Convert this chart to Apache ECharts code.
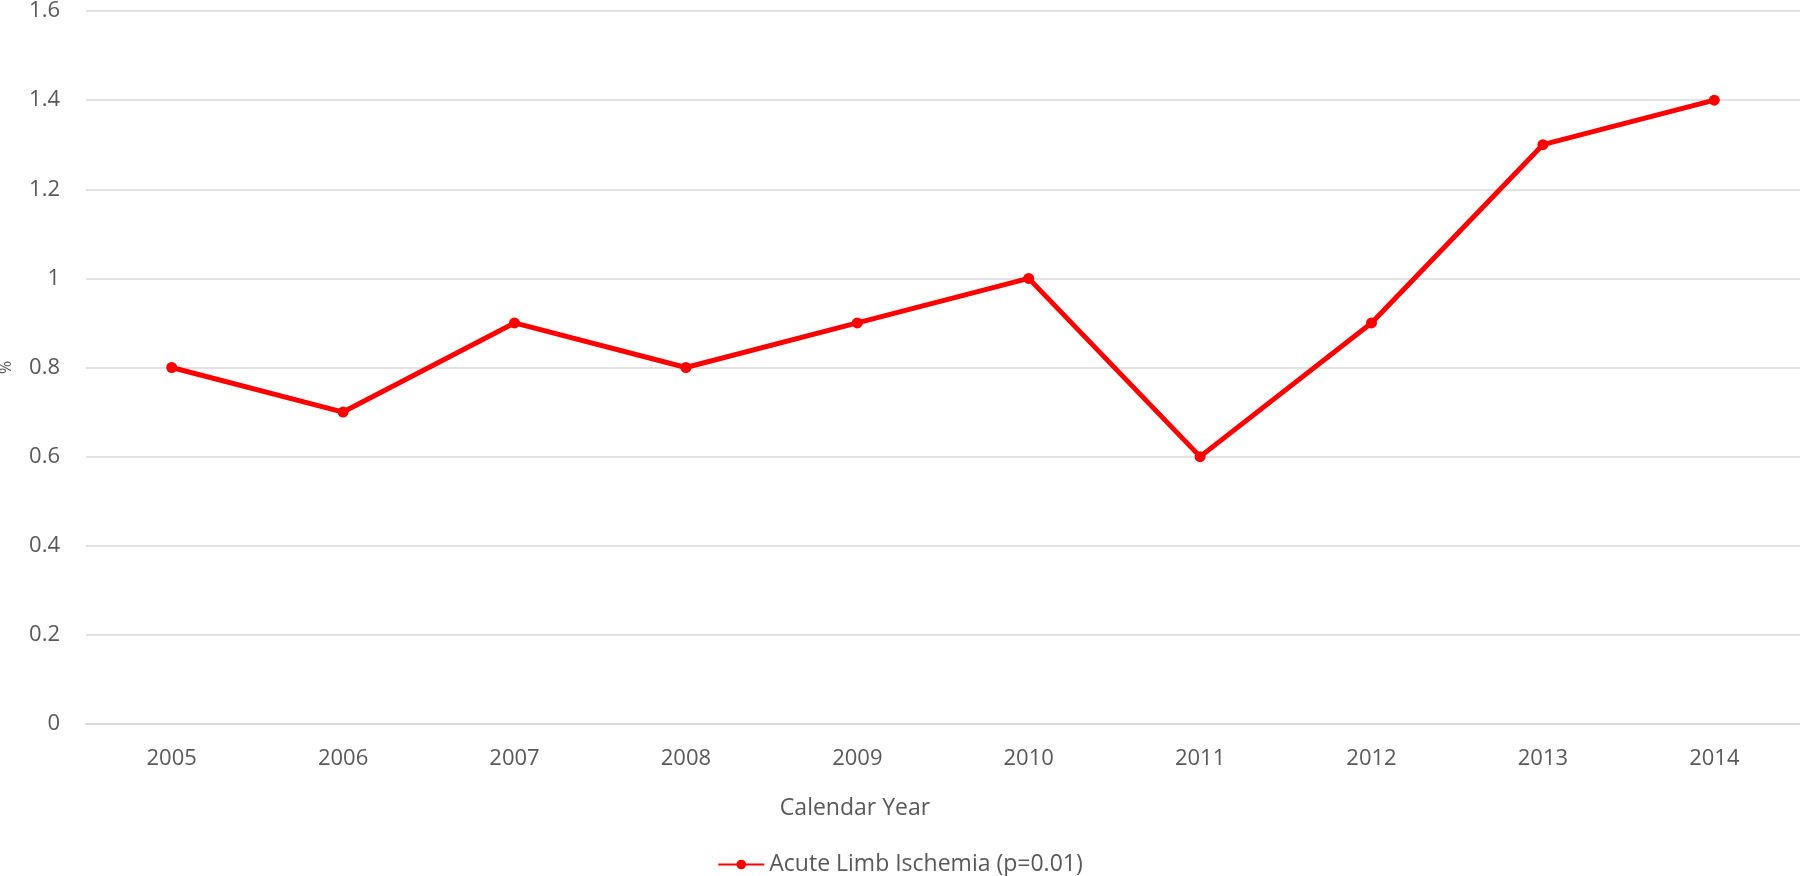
<!DOCTYPE html>
<html><head><meta charset="utf-8">
<script src="https://cdn.jsdelivr.net/npm/echarts@6/dist/echarts.min.js"></script>
<style>html,body{margin:0;padding:0;background:#fff}#c{width:1800px;height:876px}</style>
</head><body><div id="c"></div>
<script>
const categories = ['2005','2006','2007','2008','2009','2010','2011','2012','2013','2014'];
const seriesName = 'Acute Limb Ischemia (p=0.01)';
const values = [0.8, 0.7, 0.9, 0.8, 0.9, 1.0, 0.6, 0.9, 1.3, 1.4];
const yTicks = {min: 0, max: 1.6, interval: 0.2};

const chart = echarts.init(document.getElementById('c'), null, {renderer: 'canvas'});
const font = '"Open Sans", "Noto Sans", sans-serif';
chart.setOption({
  animation: false,
  textStyle: {fontFamily: font},
  grid: {left: 86, right: 0, top: 11, bottom: 152, containLabel: false, outerBoundsMode: 'none'},
  legend: {
    top: 848, left: 'center',
    itemWidth: 46, itemHeight: 12, itemGap: 10,
    textStyle: {color: '#595959', fontSize: 23, fontFamily: font},
    data: [seriesName]
  },
  xAxis: {
    type: 'category', data: categories, boundaryGap: true,
    name: 'Calendar Year', nameLocation: 'middle', nameGap: 73,
    nameTextStyle: {color: '#595959', fontSize: 23, padding: [0, 176, 0, 0]},
    axisLine: {show: true, lineStyle: {color: '#d9d9d9', width: 1.5}},
    axisTick: {show: false},
    axisLabel: {color: '#595959', fontSize: 22, margin: 24}
  },
  yAxis: {
    type: 'value', min: yTicks.min, max: yTicks.max, interval: yTicks.interval,
    name: '%', nameLocation: 'middle', nameGap: 72, nameRotate: 90,
    nameTextStyle: {color: '#595959', fontSize: 16},
    axisLine: {show: false}, axisTick: {show: false},
    axisLabel: {color: '#595959', fontSize: 22, margin: 26,
      formatter: v => String(Math.round(v*10)/10)},
    splitLine: {lineStyle: {color: '#d9d9d9', width: 1.5}}
  },
  series: [{
    name: seriesName, type: 'line', data: values,
    lineStyle: {color: '#ff0000', width: 5},
    itemStyle: {color: '#ff0000'},
    symbol: 'circle', symbolSize: 11, showSymbol: true
  }]
});
</script></body></html>
